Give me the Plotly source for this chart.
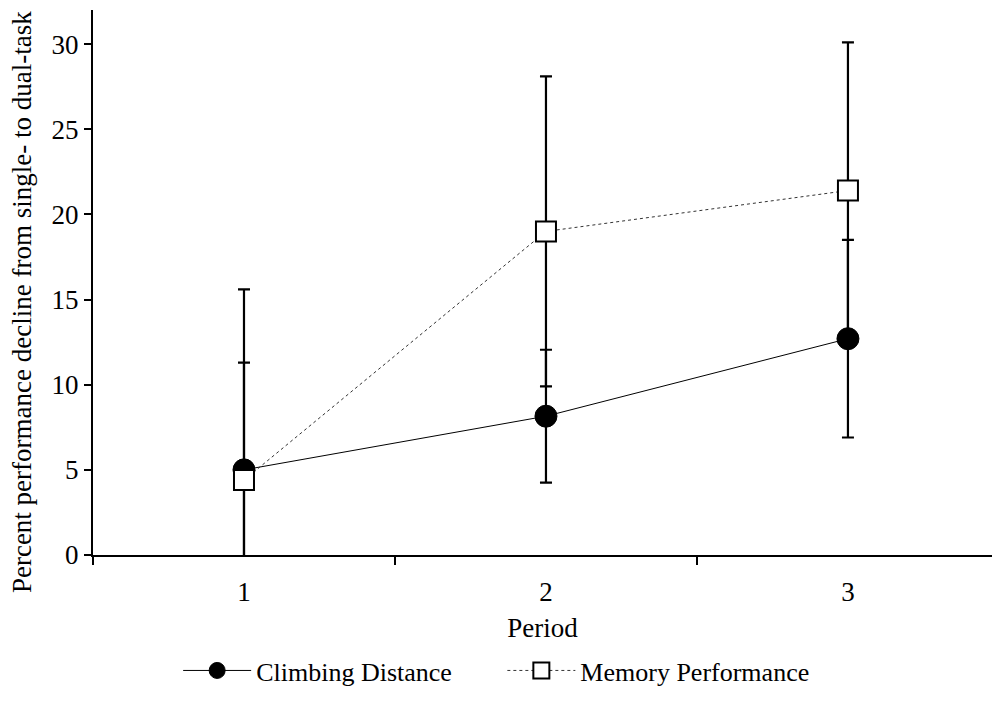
import plotly.graph_objects as go

periods = [1, 2, 3]
climb_mean = [5.0, 8.15, 12.7]
climb_err = [6.3, 3.9, 5.8]
memory_mean = [4.4, 19.0, 21.4]
memory_err = [11.2, 9.1, 8.7]
x_tick_vals = [1, 2, 3]
x_tick_text = ["1", "2", "3"]
x_boundaries = [0.5, 1.5, 2.5, 3.5]
y_tick_vals = [0, 5, 10, 15, 20, 25, 30]
series_names = ["Climbing Distance", "Memory Performance"]
y_title = "Percent performance decline from single- to dual-task"

FONT = "Liberation Serif, Times New Roman, serif"
FS = 27
PAD = "\u00a0" * 7

fig = go.Figure()
fig.add_trace(go.Scatter(
    x=periods, y=climb_mean, name=series_names[0] + PAD,
    mode="lines+markers",
    line=dict(color="black", width=1),
    marker=dict(symbol="circle", size=22, color="black", line=dict(color="black", width=1)),
    error_y=dict(type="data", array=climb_err, visible=True, color="black", thickness=2.2, width=6),
    cliponaxis=False,
))
fig.add_trace(go.Scatter(
    x=periods, y=memory_mean, name=series_names[1],
    mode="lines+markers",
    line=dict(color="#333333", width=1, dash="dot"),
    marker=dict(symbol="square", size=20, color="white", line=dict(color="black", width=2)),
    error_y=dict(type="data", array=memory_err, visible=True, color="black", thickness=2.2, width=6),
    cliponaxis=False,
))

fig.add_annotation(
    text=y_title, textangle=-90, showarrow=False,
    xref="paper", yref="paper", x=-0.079, y=0.464,
    xanchor="center", yanchor="middle",
    font=dict(family=FONT, size=FS, color="black"),
)

fig.update_layout(
    width=992, height=713,
    margin=dict(l=93, r=0, t=10, b=158),
    paper_bgcolor="white", plot_bgcolor="white",
    font=dict(family=FONT, size=FS, color="black"),
    showlegend=True,
    legend=dict(orientation="h", x=0.449, xanchor="center", y=-0.212, yanchor="middle",
                itemwidth=68,
                font=dict(family=FONT, size=26, color="black")),
    xaxis=dict(
        range=[0.5, 3.477], tickvals=x_tick_vals, ticktext=x_tick_text,
        ticks="", showgrid=False, zeroline=False,
        showline=True, linecolor="black", linewidth=2,
        tickfont=dict(family=FONT, size=FS, color="black"),
        ticklabelstandoff=12,
        minor=dict(tickvals=x_boundaries, ticks="outside", ticklen=8, tickwidth=2, tickcolor="black"),
        title=dict(text="Period", font=dict(family=FONT, size=FS, color="black"), standoff=12),
    ),
    yaxis=dict(
        range=[0, 32], tickvals=y_tick_vals,
        ticks="outside", ticklen=7, tickwidth=2, tickcolor="black",
        showgrid=False, zeroline=False,
        showline=True, linecolor="black", linewidth=2,
        tickfont=dict(family=FONT, size=FS, color="black"),
    ),
)

fig.write_html("out.html")
